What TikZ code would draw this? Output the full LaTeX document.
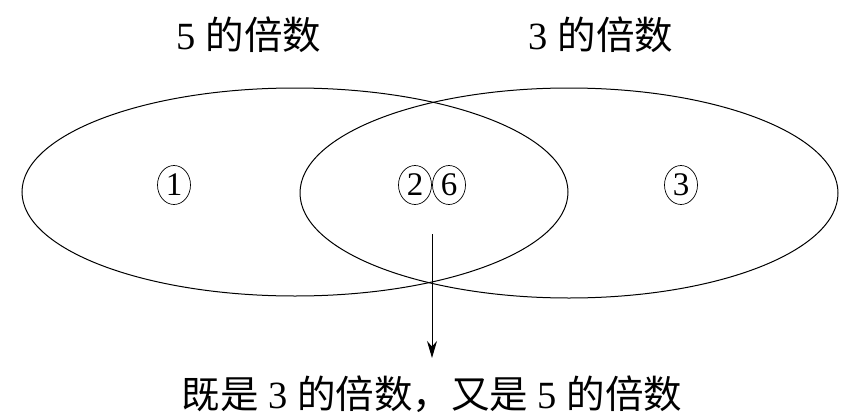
\documentclass[tikz,border=0pt]{standalone}
\usepackage{fontspec}
\setmainfont{Liberation Serif}
\newfontfamily\cjk{Noto Sans CJK SC}[FakeBold=0]
\usetikzlibrary{arrows.meta,shapes.geometric}
\tikzset{
  setline/.style={draw, line width=1pt, ellipse, inner sep=0pt},
  label/.style={font=\fontsize{38.5}{44}\selectfont, inner sep=0pt},
  circnum/.style={draw, ellipse, line width=0.7pt, minimum width=33pt, minimum height=39pt, inner sep=0pt, font=\fontsize{33}{36}\selectfont},
  pointer/.style={line width=1pt, -{Stealth[length=17pt,width=10pt]}}
}
\begin{document}
\begin{tikzpicture}[x=1pt,y=-1pt]
\useasboundingbox (0,0) rectangle (867,420);
\node[setline, minimum width=546pt, minimum height=208pt] (five) at (295,192) {};
\node[setline, minimum width=538pt, minimum height=210pt] (three) at (569,193) {};
\node[label] (fivelab) at (249,35) {5 {\cjk 的倍数}};
\node[label] (threelab) at (601,35) {3 {\cjk 的倍数}};
\node[circnum] (n1) at (174,185) {1};
\node[circnum] (n2) at (415,185) {2};
\node[circnum] (n6) at (449,185) {6};
\node[circnum] (n3) at (681,185) {3};
\node[label] (both) at (432,394) {{\cjk 既是} 3 {\cjk 的倍数，又是} 5 {\cjk 的倍数}};
\coordinate (start) at (432,234);
\coordinate (tip) at (432,358);
\draw[pointer] (start) -- (tip);
\end{tikzpicture}
\end{document}
